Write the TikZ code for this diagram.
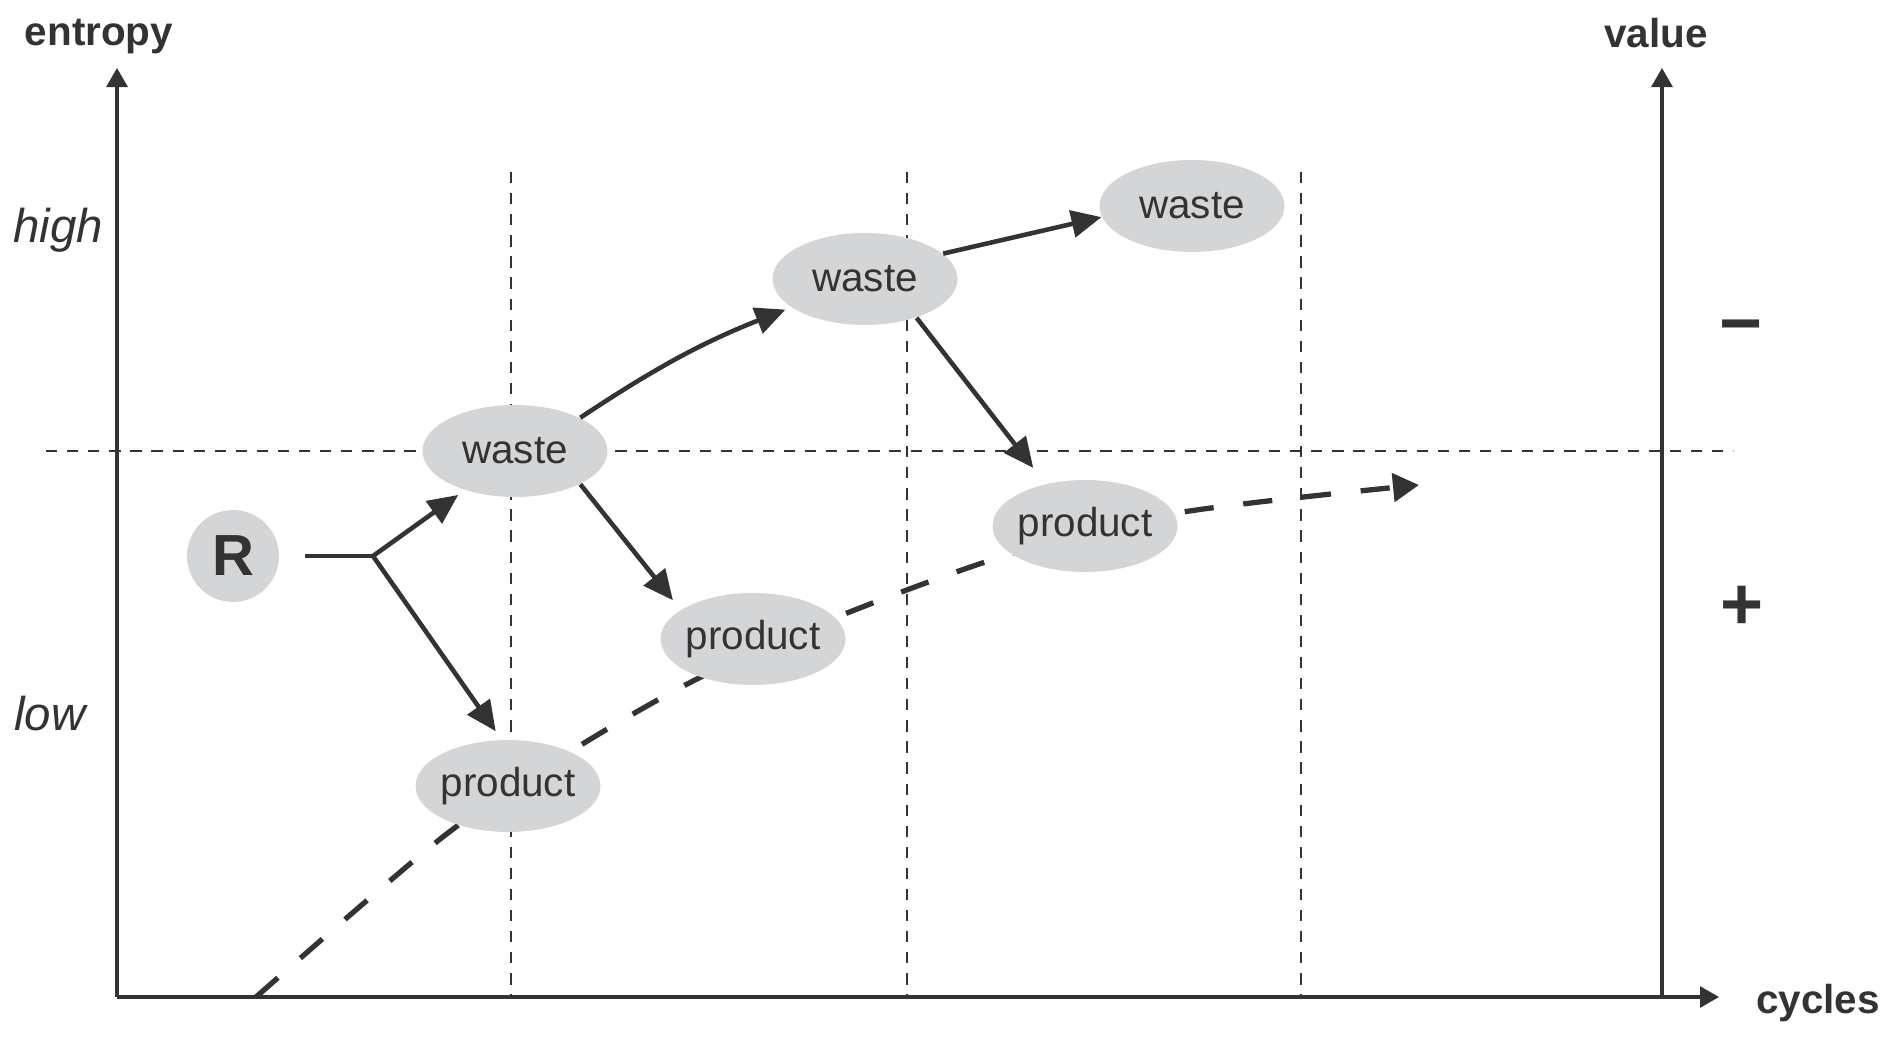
\documentclass[tikz,border=0pt]{standalone}
\usepackage{fontspec}
\setmainfont{Liberation Sans}
\usetikzlibrary{shapes.geometric,arrows.meta}
\definecolor{ink}{HTML}{333333}
\definecolor{blobgray}{HTML}{D4D5D7}
\tikzset{
  axis/.style={-{Triangle[length=1.9mm,width=2.1mm]}, line width=0.9pt, ink},
  gridline/.style={dash pattern=on 3.2pt off 2.8pt, line width=0.6pt, ink},
  trend/.style={-{Triangle[length=2.6mm,width=2.8mm]}, dash pattern=on 8.3pt off 8.5pt, line width=1.5pt, ink},
  flow/.style={-{Triangle[length=3mm,width=2.7mm]}, line width=1.3pt, ink},
  blob/.style={ellipse, fill=blobgray, minimum width=18.5mm, minimum height=9.2mm, inner sep=0pt, label={center:#1}},
  bold/.style={font=\bfseries\fontsize{11.5}{13}\selectfont},
  level/.style={font=\itshape\fontsize{13.5}{15}\selectfont},
  sign/.style={font=\bfseries\fontsize{21}{23}\selectfont}
}
\begin{document}
\begin{tikzpicture}[x=0.1mm,y=-0.1mm,font=\fontsize{11.5}{13}\selectfont,text=ink]
  \useasboundingbox (0,0) rectangle (1891,1041);
  % axes
  \draw[axis] (117,997) -- (117,68);
  \draw[axis] (117,997) -- (1719,997);
  \draw[axis] (1662,997) -- (1662,68);
  \node[bold] (entropy) at (99,37) {entropy};
  \node[bold] (value) at (1656,33) {value};
  \node[bold] (cycles) at (1818,1003) {cycles};
  \node[level] (high) at (58,230) {high};
  \node[level] (low) at (50,714) {low};
  \node[sign] (minus) at (1741,334) {−};
  \node[sign] (plus) at (1742,608) {+};
  % grid
  \foreach \x in {511,907,1301}
    \draw[gridline] (\x,172) -- (\x,997);
  \draw[gridline] (46,451) -- (1733,451);
  % trend
  \draw[trend] plot[smooth] coordinates {(256,997) (444,836) (576,748) (697,679) (832,619) (1001,557) (1177,513) (1419,485)};
  % nodes
  \node[circle, fill=blobgray, minimum size=9.2mm, inner sep=0pt, font=\bfseries\fontsize{16.5}{18}\selectfont] (R) at (233,556) {R};
  \node[blob=waste] (w1) at (515,451) {};
  \node[blob=waste] (w2) at (865,279) {};
  \node[blob=waste] (w3) at (1192,206) {};
  \node[blob=product] (p1) at (508,786) {};
  \node[blob=product] (p2) at (753,639) {};
  \node[blob=product] (p3) at (1085,526) {};
  % flows
  \coordinate (fork) at (373,556);
  \draw[line width=1.3pt, ink, shorten <=2.5mm] (R.east) -- (fork);
  \draw[flow, shorten >=0.8mm] (fork) -- (w1.218);
  \draw[flow, shorten >=1mm] (fork) -- (p1.98);
  \draw[flow, shorten >=0.6mm] (w1.27) to[bend left=6] (w2.201);
  \draw[flow, shorten >=1.2mm] (w1.333) -- (p2.158);
  \draw[flow] (w2.18) -- (w3.187);
  \draw[flow, shorten >=2mm] (w2.323) -- (p3.133);
\end{tikzpicture}
\end{document}
